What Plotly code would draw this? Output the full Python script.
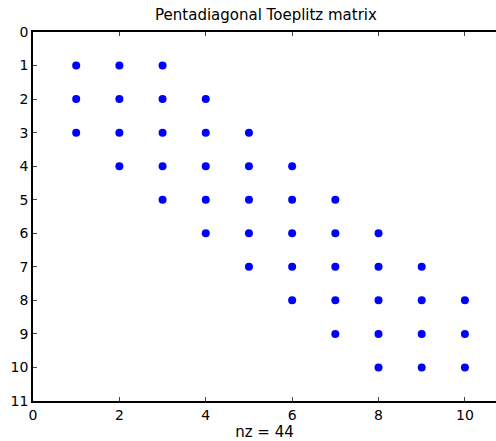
import plotly.graph_objects as go

# Nonzero pattern of the 10x10 pentadiagonal Toeplitz matrix (row, column)
rows = [1,1,1, 2,2,2,2, 3,3,3,3,3, 4,4,4,4,4, 5,5,5,5,5, 6,6,6,6,6,
        7,7,7,7,7, 8,8,8,8,8, 9,9,9,9, 10,10,10]
cols = [1,2,3, 1,2,3,4, 1,2,3,4,5, 2,3,4,5,6, 3,4,5,6,7, 4,5,6,7,8,
        5,6,7,8,9, 6,7,8,9,10, 7,8,9,10, 8,9,10]
x_ticks = [0, 2, 4, 6, 8, 10]
y_ticks = list(range(0, 12))
title_text = "Pentadiagonal Toeplitz matrix"
xlabel_text = "nz = 44"

fig = go.Figure()
fig.add_trace(go.Scatter(x=cols, y=rows, mode="markers",
                         marker=dict(color="#0000ff", size=8, line=dict(width=0)),
                         hoverinfo="x+y"))

fam = "DejaVu Sans, Liberation Sans, Arial, sans-serif"
fig.update_layout(
    width=496, height=441,
    paper_bgcolor="white", plot_bgcolor="white",
    margin=dict(l=33, r=0, t=32, b=40),
    showlegend=False,
    font=dict(family=fam, size=14, color="black"),
    title=dict(text=title_text, x=266/496, xanchor="center", y=1 - 15/441, yanchor="middle",
               font=dict(family=fam, size=15, color="black")),
    xaxis=dict(range=[0, 10.72], tickvals=x_ticks, ticks="inside", ticklen=4,
               showline=True, linecolor="black", linewidth=1.5, mirror="ticks",
               showgrid=False, zeroline=False, automargin=False,
               title=dict(text=xlabel_text, standoff=2, font=dict(size=15)),
               tickfont=dict(size=14)),
    yaxis=dict(range=[11, 0], tickvals=y_ticks, ticks="inside", ticklen=4,
               showline=True, linecolor="black", linewidth=1.5, mirror=False,
               showgrid=False, zeroline=False, automargin=False, tickfont=dict(size=14)),
)
fig.write_html("out.html", config={"displayModeBar": False},
               post_script="document.body.style.margin='0';document.body.style.overflow='hidden';")
